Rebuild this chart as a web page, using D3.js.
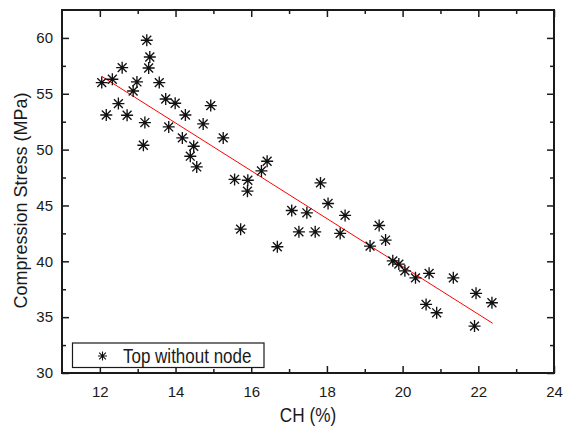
<!DOCTYPE html>
<html>
<head>
<meta charset="utf-8">
<script src="https://cdn.jsdelivr.net/npm/d3@7"></script>
<style>
html,body{margin:0;padding:0;background:#fff;}
svg text{font-family:"Liberation Sans",Arial,sans-serif;fill:#1a1a1a;}
</style>
</head>
<body>
<svg id="chart" width="569" height="428"></svg>
<script>
// ---- data ----
const chValues = [12.05,12.33,12.59,13.24,13.32,13.29,12.98,12.88,13.57,12.49,12.17,12.72,13.19,13.15,13.74,13.99,14.26,13.82,14.93,14.73,14.18,14.48,14.39,14.56,15.26,16.42,16.27,15.56,15.91,15.90,15.72,16.69,17.07,17.47,17.26,17.69,17.83,18.03,18.48,18.35,19.38,19.55,19.14,19.74,19.90,20.06,20.34,20.70,21.34,21.94,22.36,20.62,20.90,21.90];
const stressValues = [56.00,56.30,57.34,59.79,58.29,57.31,56.06,55.25,56.00,54.12,53.10,53.08,52.42,50.39,54.53,54.15,53.10,52.03,53.94,52.30,51.05,50.30,49.41,48.45,51.05,48.96,48.09,47.33,47.26,46.28,42.88,41.30,44.55,44.34,42.64,42.64,47.02,45.18,44.11,42.50,43.21,41.90,41.36,40.04,39.75,39.15,38.52,38.92,38.52,37.13,36.29,36.14,35.39,34.20];
const fitX = [12.05, 22.38];
const fitY = [56.56, 34.45];
const xTicks = [12,14,16,18,20,22,24];
const xMinorTicks = [13,15,17,19,21,23];
const yTicks = [30,35,40,45,50,55,60];
const yMinorTicks = [32.5,37.5,42.5,47.5,52.5,57.5];
const seriesName = "Top without node";
const xTitle = "CH (%)";
const yTitle = "Compression Stress (MPa)";

// ---- layout ----
const L = 62, R = 554, T = 10, B = 373;
const svg = d3.select("#chart");
const x = d3.scaleLinear().domain([11, 24]).range([L, R]);
const y = d3.scaleLinear().domain([30, 62.5]).range([B, T]);
const ink = "#1a1a1a";

function styleAxis(g){
  g.select(".domain").remove();
  g.selectAll(".tick line").attr("stroke", ink).attr("stroke-width", 1.5);
  g.selectAll(".tick text").attr("font-size", 15).attr("fill", ink)
    .attr("font-family", '"Liberation Sans",Arial,sans-serif');
}

// bottom
svg.append("g").attr("transform", `translate(0,${B})`)
  .call(d3.axisBottom(x).tickValues(xTicks).tickSize(-7).tickPadding(13).tickFormat(d3.format("d")))
  .call(styleAxis);
svg.append("g").attr("transform", `translate(0,${B})`)
  .call(d3.axisBottom(x).tickValues(xMinorTicks).tickSize(-4).tickFormat(""))
  .call(styleAxis);
// top
svg.append("g").attr("transform", `translate(0,${T})`)
  .call(d3.axisTop(x).tickValues(xTicks).tickSize(-7).tickFormat(""))
  .call(styleAxis);
svg.append("g").attr("transform", `translate(0,${T})`)
  .call(d3.axisTop(x).tickValues(xMinorTicks).tickSize(-4).tickFormat(""))
  .call(styleAxis);
// left
svg.append("g").attr("transform", `translate(${L},0)`)
  .call(d3.axisLeft(y).tickValues(yTicks).tickSize(-7).tickPadding(9).tickFormat(d3.format("d")))
  .call(styleAxis);
svg.append("g").attr("transform", `translate(${L},0)`)
  .call(d3.axisLeft(y).tickValues(yMinorTicks).tickSize(-4).tickFormat(""))
  .call(styleAxis);
// right
svg.append("g").attr("transform", `translate(${R},0)`)
  .call(d3.axisRight(y).tickValues(yTicks).tickSize(-7).tickFormat(""))
  .call(styleAxis);
svg.append("g").attr("transform", `translate(${R},0)`)
  .call(d3.axisRight(y).tickValues(yMinorTicks).tickSize(-4).tickFormat(""))
  .call(styleAxis);

// frame
svg.append("rect").attr("x", L).attr("y", T).attr("width", R - L).attr("height", B - T)
  .attr("fill", "none").attr("stroke", ink).attr("stroke-width", 2);

// fit line
const line = d3.line().x(d => x(d[0])).y(d => y(d[1]));
svg.append("path").datum(d3.zip(fitX, fitY))
  .attr("d", line).attr("fill", "none").attr("stroke", "#ff0000").attr("stroke-width", 1);

// asterisk symbol
function star(cx, cy, s){
  const d = s * 0.74;
  return `M${cx},${cy - s}L${cx},${cy + s}` +
         `M${cx - s},${cy}L${cx + s},${cy}` +
         `M${cx - d},${cy - d}L${cx + d},${cy + d}` +
         `M${cx - d},${cy + d}L${cx + d},${cy - d}`;
}
const pts = d3.zip(chValues, stressValues);
svg.append("g").selectAll("path").data(pts).join("path")
  .attr("d", d => star(x(d[0]), y(d[1]), 6))
  .attr("stroke", "#111").attr("stroke-width", 1.35).attr("fill", "none");

// legend
const lg = svg.append("g");
lg.append("rect").attr("x", 72.5).attr("y", 343).attr("width", 191.5).attr("height", 24.5)
  .attr("fill", "#fff").attr("stroke", ink).attr("stroke-width", 1.2);
lg.append("path").attr("d", star(102.5, 356, 4.5)).attr("stroke", "#111").attr("stroke-width", 1.1).attr("fill", "none");
lg.append("text").attr("transform", "translate(123,362.5) scale(1,1.18)").attr("font-size", 17).text(seriesName);

// axis titles
svg.append("text").attr("transform", `translate(${(L + R) / 2},421.5) scale(1,1.18)`).attr("text-anchor", "middle")
  .attr("font-size", 17.2).text(xTitle);
svg.append("text").attr("transform", `translate(27,${(T + B) / 2 + 9}) rotate(-90) scale(1.03,1)`)
  .attr("text-anchor", "middle").attr("font-size", 17.5).text(yTitle);
</script>
</body>
</html>
